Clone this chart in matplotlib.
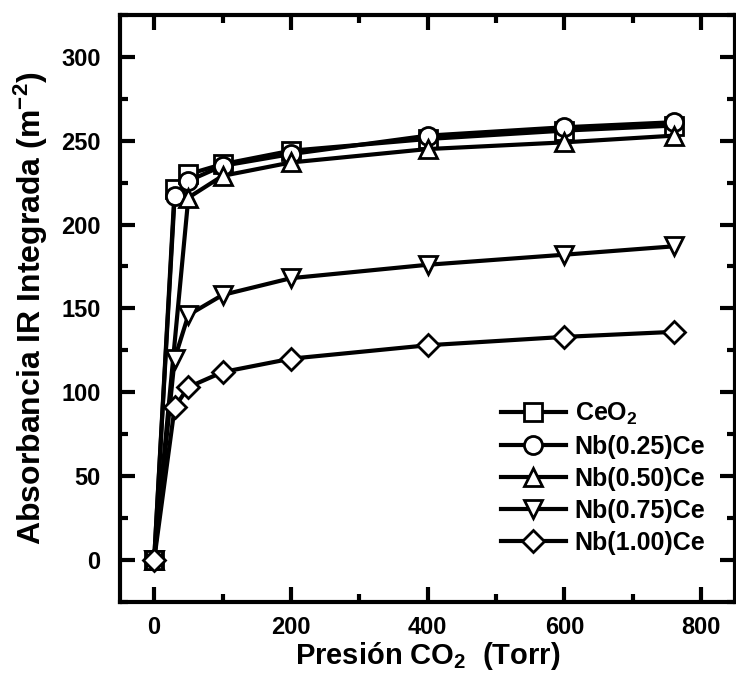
import matplotlib
matplotlib.use("Agg")
import matplotlib.pyplot as plt
from matplotlib.ticker import MultipleLocator

plt.rcParams["font.family"] = ["Liberation Sans", "DejaVu Sans"]
plt.rcParams["font.weight"] = "bold"
plt.rcParams["axes.labelweight"] = "bold"
plt.rcParams["mathtext.fontset"] = "custom"
plt.rcParams["mathtext.rm"] = "Liberation Sans:bold"
plt.rcParams["mathtext.it"] = "Liberation Sans:bold"
plt.rcParams["mathtext.bf"] = "Liberation Sans:bold"
plt.rcParams["mathtext.default"] = "rm"

# data
pressure = [0, 30, 50, 100, 200, 400, 600, 760]
pressure_050 = [0, 50, 100, 200, 400, 600, 760]
ceo2 = [0, 221, 230, 236, 244, 251, 256, 259]
nb025 = [0, 217, 226, 235, 242, 253, 258, 261]
nb050 = [0, 216, 229, 237, 245, 249, 253]
nb075 = [0, 120, 146, 158, 168, 176, 182, 187]
nb100 = [0, 91, 103, 112, 120, 128, 133, 136]

series = [
    (pressure, ceo2, "s", r"CeO$_2$"),
    (pressure, nb025, "o", "Nb(0.25)Ce"),
    (pressure_050, nb050, "^", "Nb(0.50)Ce"),
    (pressure, nb075, "v", "Nb(0.75)Ce"),
    (pressure, nb100, "D", "Nb(1.00)Ce"),
]

fig = plt.figure(figsize=(7.36, 6.77), dpi=100)
ax = fig.add_axes([0.163, 0.111, 0.836, 0.867])

for x, y, m, lab in series:
    ax.plot(x, y, color="black", lw=3, marker=m,
            ms=13 if m != "D" else 11, mfc="white", mec="black", mew=2,
            label=lab)

ax.set_xlim(-50, 850)
ax.set_ylim(-25, 325)
ax.xaxis.set_major_locator(MultipleLocator(200))
ax.xaxis.set_minor_locator(MultipleLocator(100))
ax.yaxis.set_major_locator(MultipleLocator(50))
ax.yaxis.set_minor_locator(MultipleLocator(25))
ax.tick_params(which="both", direction="in", top=True, right=True,
               width=3, labelsize=17)
ax.tick_params(which="major", length=11)
ax.tick_params(axis="x", which="major", pad=10)
ax.tick_params(axis="y", which="major", pad=14)
ax.tick_params(which="minor", length=6)
for s in ax.spines.values():
    s.set_linewidth(3)

ax.set_xlabel(r"Presión CO$_2$  (Torr)", fontsize=21, labelpad=1)
ax.set_ylabel(r"Absorbancia IR Integrada (m$^{-2}$)", fontsize=23, labelpad=8)

ax.legend(loc="lower right", bbox_to_anchor=(0.98, 0.05), frameon=False,
          fontsize=18, handlelength=2.6, labelspacing=0.32, handletextpad=0.35,
          borderpad=0.2)

fig.savefig("out.png", dpi=100)
